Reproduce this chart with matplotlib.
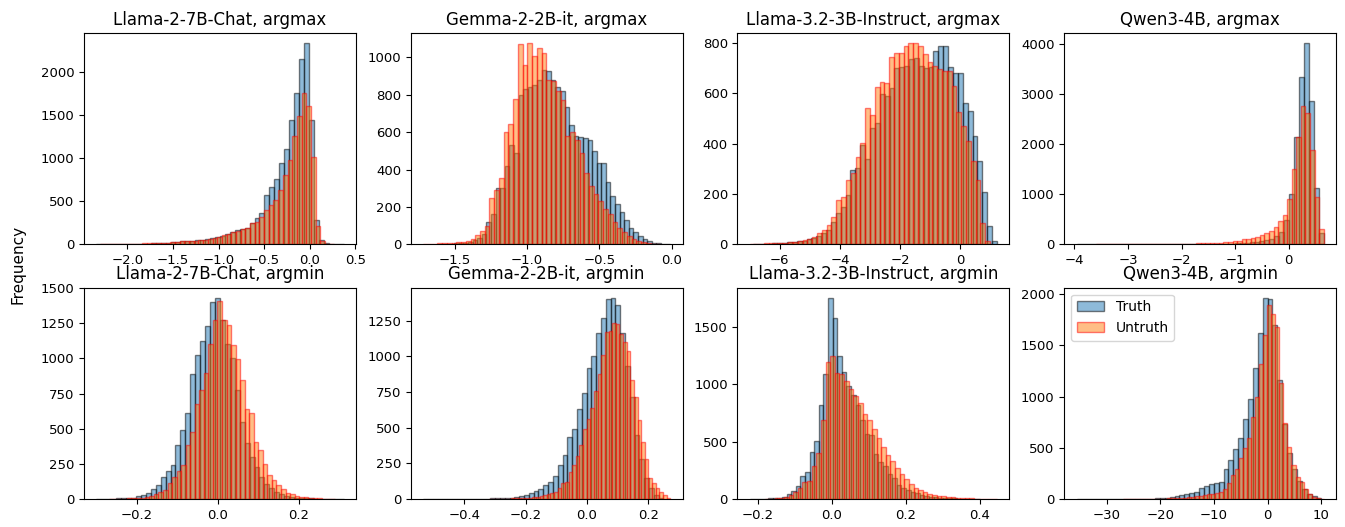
import numpy as np
import matplotlib
matplotlib.use("Agg")
from matplotlib import pyplot as plt
from matplotlib.ticker import MaxNLocator

# bin counts (50 bins per series); ranges are (min, max) of each series
l2_max_truth_rng = (-2.34, 0.37)
l2_max_truth = [2, 2, 3, 3, 4, 5, 5, 6, 7, 8,
                10, 12, 14, 17, 20, 25, 30, 35, 40, 45,
                50, 55, 65, 75, 90, 100, 120, 140, 165, 180,
                185, 250, 311, 358, 569, 665, 761, 946, 1108, 1435,
                1750, 2150, 2330, 1435, 280, 50, 12, 5, 2, 2]
l2_max_untruth_rng = (-2.30, 0.27)
l2_max_untruth = [2, 3, 4, 5, 6, 7, 8, 9, 10, 12,
                  13, 15, 18, 20, 22, 25, 30, 35, 40, 42,
                  45, 50, 55, 65, 80, 90, 105, 120, 140, 150,
                  175, 190, 250, 260, 320, 400, 455, 510, 635, 800,
                  975, 1260, 1485, 1750, 1600, 1010, 215, 40, 10, 3]

g2_max_truth_rng = (-1.60, -0.01)
g2_max_truth = [2, 3, 4, 6, 8, 10, 15, 22, 35, 55,
                120, 160, 300, 300, 420, 530, 490, 800, 830, 840,
                850, 880, 930, 925, 880, 840, 820, 735, 640, 580,
                575, 570, 560, 500, 435, 435, 335, 260, 215, 175,
                130, 90, 65, 45, 30, 18, 10, 6, 3, 2]
g2_max_untruth_rng = (-1.72, -0.08)
g2_max_untruth = [3, 2, 3, 5, 6, 8, 10, 12, 15, 20,
                  28, 50, 70, 100, 250, 290, 355, 600, 645, 775,
                  1070, 960, 1075, 1005, 1050, 1020, 880, 870, 820, 770,
                  580, 600, 560, 490, 380, 310, 270, 230, 190, 160,
                  120, 90, 65, 45, 30, 20, 12, 7, 4, 2]

l3_max_truth_rng = (-6.9, 1.23)
l3_max_truth = [2, 2, 3, 3, 4, 5, 6, 8, 10, 12,
                15, 20, 26, 34, 44, 57, 90, 123, 150, 196,
                296, 302, 395, 340, 462, 484, 597, 590, 620, 700,
                705, 710, 736, 740, 710, 700, 705, 770, 790, 790,
                705, 680, 680, 560, 530, 430, 330, 210, 75, 15]
l3_max_untruth_rng = (-7.0, 1.0)
l3_max_untruth = [2, 2, 3, 4, 4, 5, 6, 7, 8, 10,
                  13, 16, 20, 28, 44, 57, 77, 110, 177, 190,
                  256, 283, 349, 402, 541, 515, 625, 644, 641, 745,
                  760, 760, 790, 800, 800, 790, 755, 725, 710, 695,
                  690, 690, 630, 528, 470, 410, 330, 256, 84, 15]

q3_max_truth_rng = (-3.96, 0.65)
q3_max_truth = [1, 1, 1, 1, 1, 1, 1, 1, 1, 2,
                2, 2, 2, 3, 3, 3, 4, 4, 4, 5,
                5, 6, 6, 7, 7, 8, 9, 10, 11, 13,
                15, 18, 22, 26, 32, 40, 50, 60, 80, 110,
                160, 250, 484, 1014, 2130, 3335, 4010, 2857, 1127, 219]
q3_max_untruth_rng = (-3.6, 0.65)
q3_max_untruth = [1, 2, 2, 3, 3, 4, 4, 5, 5, 6,
                  6, 7, 8, 8, 9, 10, 11, 12, 13, 14,
                  15, 17, 19, 21, 24, 27, 30, 35, 40, 46,
                  60, 73, 99, 106, 120, 140, 185, 220, 265, 350,
                  470, 583, 895, 1510, 2140, 2750, 2620, 1890, 950, 300]

l2_min_truth_rng = (-0.30, 0.31)
l2_min_truth = [2, 2, 3, 3, 5, 6, 8, 10, 18, 30,
                45, 70, 100, 160, 200, 241, 383, 490, 613, 890,
                1022, 1121, 1230, 1400, 1432, 1275, 1105, 1000, 774, 545,
                400, 300, 230, 160, 110, 75, 50, 35, 22, 15,
                10, 7, 5, 4, 3, 2, 2, 1, 1, 1]
l2_min_untruth_rng = (-0.27, 0.29)
l2_min_untruth = [1, 2, 2, 3, 4, 5, 7, 10, 14, 22,
                  33, 52, 64, 111, 156, 200, 241, 383, 478, 679,
                  778, 899, 1105, 1270, 1405, 1270, 1235, 1093, 998, 845,
                  639, 613, 407, 348, 246, 170, 135, 100, 71, 45,
                  33, 24, 17, 12, 8, 6, 4, 3, 2, 1]

g2_min_truth_rng = (-0.534, 0.25)
g2_min_truth = [1, 1, 1, 1, 1, 1, 1, 1, 1, 2,
                2, 2, 3, 3, 4, 5, 6, 8, 10, 14,
                20, 30, 40, 55, 70, 98, 121, 163, 237, 307,
                435, 493, 633, 747, 919, 1001, 1168, 1273, 1401, 1413,
                1360, 1168, 935, 719, 447, 284, 144, 79, 28, 8]
g2_min_untruth_rng = (-0.32, 0.272)
g2_min_untruth = [1, 1, 2, 2, 3, 3, 4, 5, 6, 7,
                  8, 10, 13, 17, 22, 28, 35, 44, 51, 75,
                  109, 121, 190, 242, 300, 380, 490, 560, 640, 760,
                  880, 1010, 1170, 1180, 1234, 1227, 1157, 1100, 1040, 836,
                  719, 552, 400, 284, 144, 109, 74, 50, 28, 8]

l3_min_truth_rng = (-0.222, 0.40)
l3_min_truth = [1, 2, 3, 4, 5, 8, 12, 20, 40, 69,
                116, 199, 237, 410, 506, 821, 1087, 1754, 1575, 1243,
                1104, 988, 907, 815, 685, 569, 560, 390, 324, 286,
                222, 179, 121, 92, 81, 64, 49, 35, 27, 20,
                15, 11, 8, 6, 5, 4, 3, 2, 2, 1]
l3_min_untruth_rng = (-0.18, 0.447)
l3_min_untruth = [2, 4, 8, 12, 20, 35, 64, 98, 150, 156,
                  290, 400, 685, 1191, 1243, 1100, 1090, 1032, 960, 900,
                  835, 743, 685, 607, 530, 454, 381, 330, 270, 220,
                  175, 135, 100, 80, 62, 48, 38, 30, 24, 19,
                  15, 12, 9, 7, 5, 4, 3, 3, 2, 2]

q3_min_truth_rng = (-35.6, 10.0)
q3_min_truth = [1, 1, 1, 1, 1, 1, 1, 1, 2, 2,
                2, 3, 3, 4, 4, 5, 6, 8, 10, 16,
                26, 39, 46, 55, 72, 111, 130, 143, 153, 169,
                293, 380, 485, 592, 781, 976, 1275, 1623, 1967, 1958,
                1700, 1161, 728, 445, 293, 176, 98, 46, 26, 13]
q3_min_untruth_rng = (-27.0, 10.4)
q3_min_untruth = [1, 1, 1, 2, 2, 2, 3, 3, 4, 4,
                  5, 6, 7, 8, 10, 13, 16, 20, 26, 33,
                  39, 46, 52, 62, 72, 98, 153, 234, 293, 397,
                  500, 598, 803, 1000, 1314, 1600, 1893, 1811, 1680, 1130,
                  740, 504, 332, 218, 169, 98, 46, 23, 13, 5]

models = ["Llama-2-7B-Chat", "Gemma-2-2B-it", "Llama-3.2-3B-Instruct", "Qwen3-4B"]
modes = ["argmax", "argmin"]

panels = [
    [(l2_max_truth_rng, l2_max_truth, l2_max_untruth_rng, l2_max_untruth),
     (g2_max_truth_rng, g2_max_truth, g2_max_untruth_rng, g2_max_untruth),
     (l3_max_truth_rng, l3_max_truth, l3_max_untruth_rng, l3_max_untruth),
     (q3_max_truth_rng, q3_max_truth, q3_max_untruth_rng, q3_max_untruth)],
    [(l2_min_truth_rng, l2_min_truth, l2_min_untruth_rng, l2_min_untruth),
     (g2_min_truth_rng, g2_min_truth, g2_min_untruth_rng, g2_min_untruth),
     (l3_min_truth_rng, l3_min_truth, l3_min_untruth_rng, l3_min_untruth),
     (q3_min_truth_rng, q3_min_truth, q3_min_untruth_rng, q3_min_untruth)],
]


def draw_hist(ax, rng, counts, **kw):
    edges = np.linspace(rng[0], rng[1], len(counts) + 1)
    centers = (edges[:-1] + edges[1:]) / 2
    ax.hist(centers, bins=edges, weights=counts, **kw)


plt.rcParams["font.size"] = 9.5
fig, axes = plt.subplots(2, 4, figsize=(13.45, 5.27), dpi=100)
fig.subplots_adjust(left=0.0625, right=0.9933, top=0.9374, bottom=0.0531,
                    wspace=0.202, hspace=0.204)

steps = [1, 2, 2.5, 5, 10]
for r in range(2):
    for c in range(4):
        ax = axes[r, c]
        t_rng, t_cnt, u_rng, u_cnt = panels[r][c]
        draw_hist(ax, t_rng, t_cnt, color="C0", alpha=0.5, edgecolor="black",
                  linewidth=1.0, label="Truth")
        draw_hist(ax, u_rng, u_cnt, color="C1", alpha=0.5, edgecolor="red",
                  linewidth=1.0, label="Untruth")
        ax.set_title(f"{models[c]}, {modes[r]}", fontsize=12)
        ax.xaxis.set_major_locator(MaxNLocator(nbins=6, steps=steps))
        ax.yaxis.set_major_locator(MaxNLocator(nbins=7, steps=steps))

axes[1, 3].legend(loc="upper left", fontsize=10)
fig.text(0.0134, 0.499, "Frequency", rotation=90, va="center", ha="center",
         fontsize=11)

fig.savefig("out.png")
